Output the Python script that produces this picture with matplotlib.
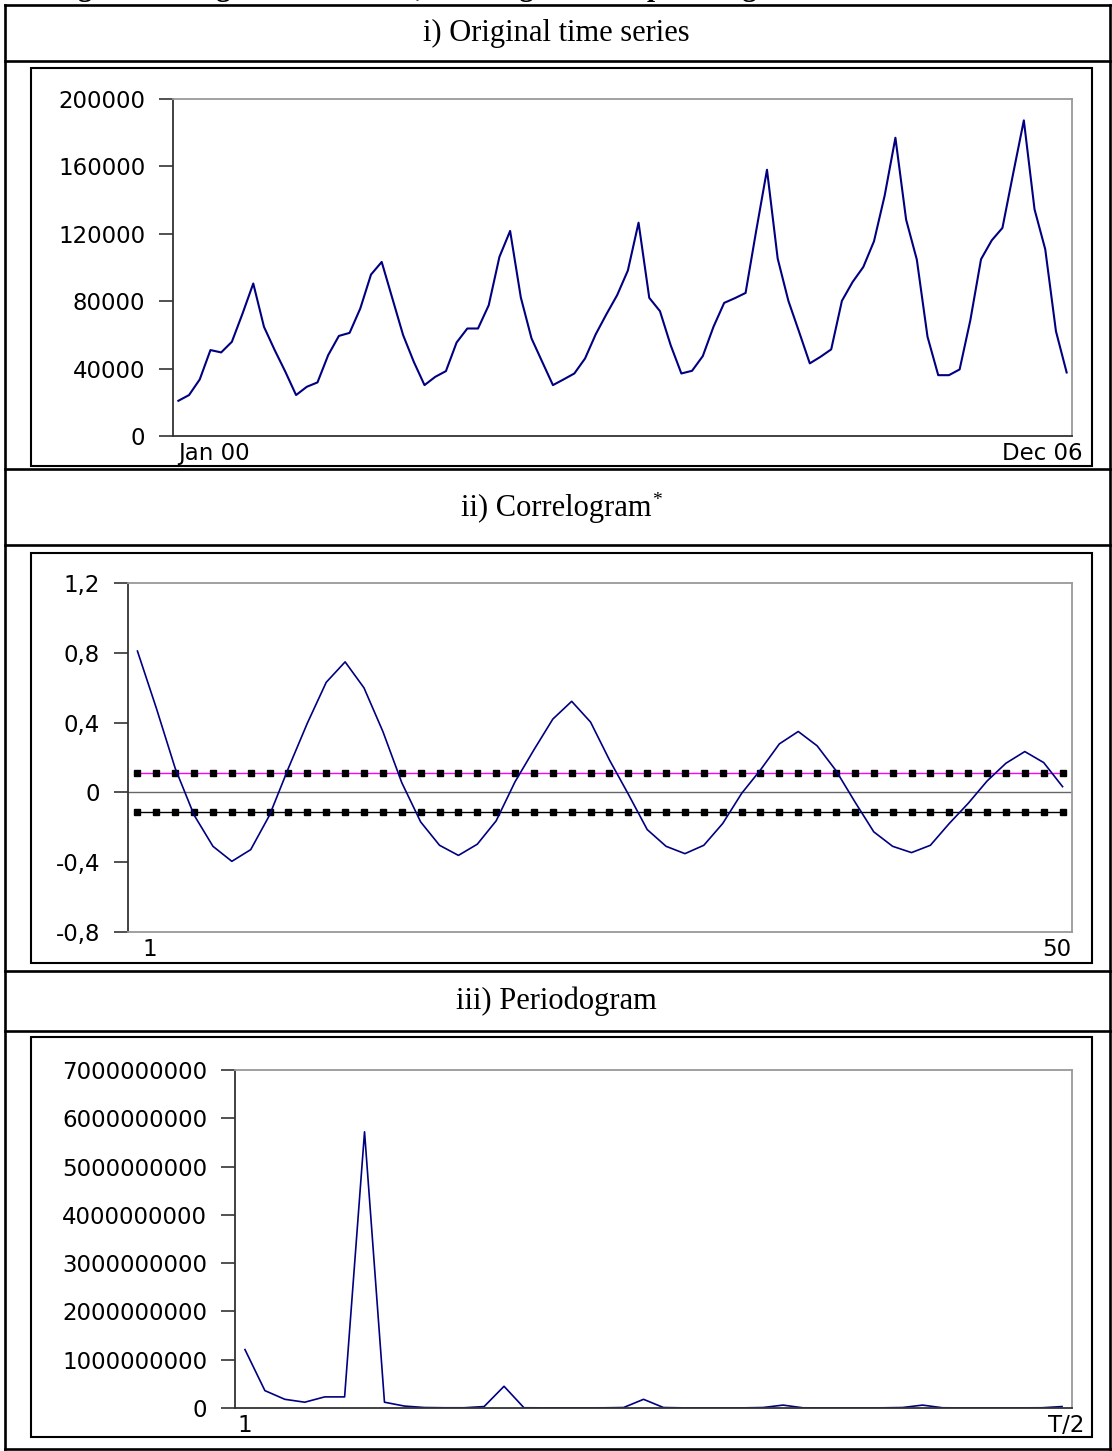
import matplotlib.pyplot as plt
import matplotlib.transforms as mtrans
from matplotlib.lines import Line2D
from matplotlib.patches import Rectangle

W, H = 1112, 1451
DPI = 100

# i) monthly series, Jan 00 .. Dec 06
sales = [20900, 24300, 33600, 51000, 49600, 55900, 72700, 90500, 64800, 51000, 38100, 24300,
         29200, 31800, 48000, 59400, 61200, 75700, 95800, 103300, 81600, 59900, 44000, 30200,
         35100, 38500, 55500, 63800, 63800, 77600, 106300, 121700, 82200, 57900, 44000, 30200,
         33600, 37100, 46000, 60400, 72300, 83600, 98200, 126600, 82000, 74100, 53900, 37100,
         38700, 47400, 64800, 79000, 81800, 84900, 122100, 158000, 105300, 80200, 61800, 43100,
         47000, 51400, 80200, 91400, 100300, 115600, 142800, 177000, 128400, 104700, 58900, 36100,
         36100, 39500, 68700, 104900, 116100, 123500, 155700, 187300, 134500, 110800, 62200, 37700]
sales_ticks = [0, 40000, 80000, 120000, 160000, 200000]
first_month, last_month = 'Jan 00', 'Dec 06'

# ii) autocorrelations, lags 1..50
acf = [0.81, 0.483, 0.138, -0.130, -0.309, -0.395, -0.328, -0.130, 0.14, 0.397,
       0.631, 0.748, 0.599, 0.349, 0.056, -0.169, -0.303, -0.361, -0.297, -0.163,
       0.061, 0.244, 0.420, 0.522, 0.403, 0.186, -0.01, -0.213, -0.309, -0.351,
       -0.303, -0.178, -0.006, 0.129, 0.278, 0.349, 0.267, 0.125, -0.054, -0.226,
       -0.309, -0.345, -0.303, -0.178, -0.063, 0.065, 0.167, 0.234, 0.171, 0.033]
acf_upper = 0.11
acf_lower = -0.11
acf_ticks = [-0.8, -0.4, 0, 0.4, 0.8, 1.2]
acf_ticklabels = ['-0,8', '-0,4', '0', '0,4', '0,8', '1,2']

# iii) periodogram ordinates, 1..T/2
pgram = [1.21e9, 0.36e9, 0.18e9, 0.12e9, 0.23e9, 0.23e9, 5.72e9, 0.12e9, 0.04e9, 0.01e9,
         0.005e9, 0.005e9, 0.03e9, 0.45e9, 0.005e9, 0.003e9, 0.003e9, 0.003e9, 0.004e9, 0.01e9,
         0.18e9, 0.01e9, 0.003e9, 0.002e9, 0.002e9, 0.003e9, 0.01e9, 0.06e9, 0.004e9, 0.002e9,
         0.002e9, 0.002e9, 0.004e9, 0.01e9, 0.06e9, 0.005e9, 0.002e9, 0.002e9, 0.002e9, 0.003e9,
         0.005e9, 0.03e9]
pgram_ticks = [0, 1e9, 2e9, 3e9, 4e9, 5e9, 6e9, 7e9]

titles = ['i) Original time series', 'ii) Correlogram', 'iii) Periodogram']
caption = 'Figure 2: Original time series, correlogram and periodogram'

LINE = '#000080'
TICKFONT = 'DejaVu Sans'
TICKSIZE = 16.5
TITLEFONT = 'Liberation Serif'
TITLESIZE = 22


def fx(x):
    return x / W


def fy(y):
    return 1 - y / H


def hline(fig, y, x0=5, x1=1110, lw=1.9):
    fig.add_artist(Line2D([fx(x0), fx(x1)], [fy(y), fy(y)], transform=fig.transFigure,
                          color='black', lw=lw, solid_capstyle='projecting'))


def vline(fig, x, y0=5, y1=1449, lw=1.9):
    fig.add_artist(Line2D([fx(x), fx(x)], [fy(y0), fy(y1)], transform=fig.transFigure,
                          color='black', lw=lw, solid_capstyle='projecting'))


def frame(fig, l, t, r, b):
    fig.add_artist(Rectangle((fx(l), fy(b)), fx(r) - fx(l), fy(t) - fy(b), transform=fig.transFigure,
                             fill=False, ec='black', lw=1.5))


def make_axes(fig, l, t, r, b):
    ax = fig.add_axes([fx(l), fy(b), fx(r) - fx(l), fy(t) - fy(b)])
    for s in ['top', 'right']:
        ax.spines[s].set_color('#999999')
        ax.spines[s].set_linewidth(1.3)
    ax.spines['left'].set_color('#333333')
    ax.spines['left'].set_linewidth(1.3)
    ax.spines['bottom'].set_color('#333333')
    ax.spines['bottom'].set_linewidth(1.3)
    ax.tick_params(axis='y', direction='out', length=10, width=1.2, color='#333333',
                   labelsize=TICKSIZE, pad=10)
    ax.tick_params(axis='x', length=0, labelbottom=False)
    ax.set_xticks([])
    return ax


def edge_label(ax, x, text, ha, dy=6):
    # category labels drawn under the plot area, x in data units
    trans = ax.get_xaxis_transform()
    off = mtrans.ScaledTranslation(0, -dy / DPI, ax.figure.dpi_scale_trans)
    ax.text(x, 0, text, transform=trans + off, ha=ha, va='top', fontsize=TICKSIZE,
            family=TICKFONT, color='black')


fig = plt.figure(figsize=(W / DPI, H / DPI), dpi=DPI)

# caption cut by the top edge, only the descenders show
fig.text(fx(52), fy(-4), caption, ha='left', va='baseline', fontsize=21, fontweight='bold',
         family=TITLEFONT)

# table grid
for y in [5, 61, 469, 545, 971, 1031, 1449]:
    hline(fig, y)
vline(fig, 5)
vline(fig, 1110)

# row titles
fig.text(0.5, fy(33), titles[0], ha='center', va='center', fontsize=TITLESIZE, family=TITLEFONT)
t2 = fig.text(0.5, fy(508), titles[1], ha='center', va='center', fontsize=TITLESIZE, family=TITLEFONT)
fig.text(0.5, fy(1001), titles[2], ha='center', va='center', fontsize=TITLESIZE, family=TITLEFONT)
fig.canvas.draw()
bb = t2.get_window_extent()
fig.text((bb.x1 + 1) / W, (bb.y1 - 12) / H, '*', fontsize=14, family=TITLEFONT)

# chart frames
frame(fig, 31, 68, 1092, 466)
frame(fig, 31, 553, 1092, 963)
frame(fig, 31, 1037, 1092, 1437)

# i) original series
ax1 = make_axes(fig, 173, 99, 1072, 436)
ax1.plot(range(len(sales)), sales, color=LINE, lw=1.5)
ax1.set_xlim(-0.5, len(sales) - 0.5)
ax1.set_ylim(0, 200000)
ax1.set_yticks(sales_ticks)
ax1.set_yticklabels([str(v) for v in sales_ticks], family=TICKFONT)
edge_label(ax1, 0.0, first_month, 'left')
edge_label(ax1, len(sales) - 0.5 + 1.0, last_month, 'right')

# ii) correlogram
lags = list(range(1, len(acf) + 1))
ax2 = make_axes(fig, 128, 583, 1072, 932)
ax2.spines['bottom'].set_color('#999999')
ax2.axhline(0, color='#666666', lw=1.0, zorder=1)
ax2.plot(lags, [acf_upper] * len(lags), color='#ff00ff', lw=1.0, marker='s', ms=4.8,
         mfc='black', mec='black', zorder=2)
ax2.plot(lags, [acf_lower] * len(lags), color='black', lw=1.0, marker='s', ms=4.8,
         mfc='black', mec='black', zorder=2)
ax2.plot(lags, acf, color=LINE, lw=1.2, zorder=3)
ax2.set_xlim(0.5, len(acf) + 0.5)
ax2.set_ylim(-0.8, 1.2)
ax2.set_yticks(acf_ticks)
ax2.set_yticklabels(acf_ticklabels, family=TICKFONT)
edge_label(ax2, 1.25, '1', 'left')
edge_label(ax2, len(acf) + 0.45, '50', 'right')

# iii) periodogram
freqs = list(range(1, len(pgram) + 1))
ax3 = make_axes(fig, 235, 1070, 1072, 1408)
ax3.plot(freqs, pgram, color=LINE, lw=1.2)
ax3.set_xlim(0.5, len(pgram) + 0.5)
ax3.set_ylim(0, 7e9)
ax3.set_yticks(pgram_ticks)
ax3.set_yticklabels([str(int(v)) for v in pgram_ticks], family=TICKFONT)
edge_label(ax3, 0.6, '1', 'left')
edge_label(ax3, len(pgram) + 1.1, 'T/2', 'right')

fig.savefig('out.png', dpi=DPI)
